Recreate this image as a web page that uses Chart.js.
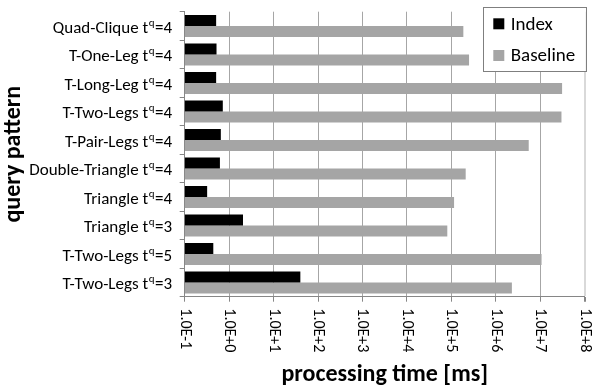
<!DOCTYPE html>
<html>
<head>
<meta charset="utf-8">
<script src="https://cdn.jsdelivr.net/npm/chart.js@4/dist/chart.umd.min.js"></script>
<style>
  html, body { margin: 0; padding: 0; background: #fff; }
  canvas { display: block; }
</style>
</head>
<body>
<canvas id="c" width="602" height="390"></canvas>
<script>
// Query patterns and their t^q parameter
const patterns = ['Quad-Clique', 'T-One-Leg', 'T-Long-Leg', 'T-Two-Legs', 'T-Pair-Legs',
                  'Double-Triangle', 'Triangle', 'Triangle', 'T-Two-Legs', 'T-Two-Legs'];
const tq = [4, 4, 4, 4, 4, 4, 4, 3, 5, 3];

// Processing time in milliseconds
const indexMs    = [0.51, 0.52, 0.51, 0.72, 0.65, 0.62, 0.32, 2.05, 0.44, 40];
const baselineMs = [1.86e5, 2.5e5, 3.1e7, 3.0e7, 5.5e6, 2.1e5, 1.15e5, 8.1e4, 1.07e7, 2.3e6];

// Decade ticks on the time axis
const tickValues = [1e-1, 1e0, 1e1, 1e2, 1e3, 1e4, 1e5, 1e6, 1e7, 1e8];
const tickLabels = ['1.0E-1', '1.0E+0', '1.0E+1', '1.0E+2', '1.0E+3',
                    '1.0E+4', '1.0E+5', '1.0E+6', '1.0E+7', '1.0E+8'];

const FONT = 'Carlito, Lato, sans-serif';
Chart.defaults.font.family = FONT;
Chart.defaults.color = '#000';

const AXIS_GREY = '#868686';
const GRID_GREY = '#a6a6a6';

// Category labels with a superscript "q" and top-to-bottom decade labels
const labelPlugin = {
  id: 'labels',
  afterDraw(chart) {
    const ctx = chart.ctx;
    const y = chart.scales.y, x = chart.scales.x;
    ctx.save();
    ctx.fillStyle = '#000';
    ctx.textBaseline = 'middle';
    const mainFont = '17px ' + FONT, supFont = '11px ' + FONT;
    const rightEdge = y.right - 12.7;
    patterns.forEach((p, i) => {
      const cy = y.getPixelForValue(i) + 2.5;
      const head = p + ' t', sup = 'q', tail = '=' + tq[i];
      ctx.font = mainFont;
      const wh = ctx.measureText(head).width, wt = ctx.measureText(tail).width;
      ctx.font = supFont;
      const ws = ctx.measureText(sup).width;
      const sx = rightEdge - (wh + ws + wt + 1);
      ctx.textAlign = 'left';
      ctx.font = mainFont;
      ctx.fillText(head, sx, cy);
      ctx.font = supFont;
      ctx.fillText(sup, sx + wh + 0.5, cy - 5.5);
      ctx.font = mainFont;
      ctx.fillText(tail, sx + wh + ws + 1, cy);
    });
    ctx.font = '16px ' + FONT;
    tickValues.forEach((v, i) => {
      const px = x.getPixelForValue(v);
      ctx.save();
      ctx.translate(px, x.top + 11.6);
      ctx.rotate(Math.PI / 2);
      ctx.textAlign = 'left';
      ctx.textBaseline = 'middle';
      ctx.fillText(tickLabels[i], 0, 0);
      ctx.restore();
    });
    ctx.restore();
  }
};

// Boxed legend in the upper right of the plot
const legendBoxPlugin = {
  id: 'legendBox',
  afterDraw(chart) {
    const ctx = chart.ctx, a = chart.chartArea;
    const bx = a.right - 102, by = a.top - 4.4, bw = 103, bh = 63.7;
    ctx.save();
    ctx.fillStyle = '#fff';
    ctx.fillRect(bx, by, bw, bh);
    ctx.strokeStyle = '#7f7f7f';
    ctx.lineWidth = 1;
    ctx.strokeRect(Math.round(bx) + 0.5, Math.round(by) + 0.5, Math.round(bw), Math.round(bh));
    ctx.font = '19px ' + FONT;
    ctx.textBaseline = 'middle';
    ctx.textAlign = 'left';
    chart.data.datasets.forEach((ds, i) => {
      const cy = by + 16.5 + i * 31.7;
      ctx.fillStyle = ds.backgroundColor;
      ctx.fillRect(bx + 10.6, cy - 5.5, 11, 11);
      ctx.fillStyle = '#000';
      ctx.fillText(ds.label, bx + 28, cy + 1);
    });
    ctx.restore();
  }
};

new Chart(document.getElementById('c'), {
  type: 'bar',
  data: {
    labels: patterns.map((p, i) => p + ' tq=' + tq[i]),
    datasets: [
      { label: 'Index', data: indexMs, backgroundColor: '#000000', borderWidth: 0 },
      { label: 'Baseline', data: baselineMs, backgroundColor: '#a5a5a5', borderWidth: 0 }
    ]
  },
  options: {
    indexAxis: 'y',
    responsive: false,
    animation: false,
    devicePixelRatio: 1,
    layout: { padding: { left: 0, right: 17.3, top: 11.7, bottom: 0 } },
    datasets: { bar: { categoryPercentage: 0.77, barPercentage: 1.0 } },
    plugins: { legend: { display: false }, tooltip: { enabled: false } },
    scales: {
      x: {
        type: 'logarithmic',
        min: 1e-1,
        max: 1e8,
        afterBuildTicks(scale) { scale.ticks = tickValues.map(v => ({ value: v })); },
        afterFit(scale) { scale.height = 93.3; },
        ticks: { display: false },
        grid: {
          color: c => (c.index === tickValues.length - 1 ? '#d9d9d9' : GRID_GREY),
          lineWidth: c => (c.index === tickValues.length - 1 ? 2 : 1),
          tickColor: AXIS_GREY,
          tickLength: 5
        },
        border: { color: AXIS_GREY },
        title: {
          display: true,
          text: 'processing time [ms]',
          font: { size: 24, weight: 'bold' },
          color: '#000',
          padding: { top: 2, bottom: 1 }
        }
      },
      y: {
        afterFit(scale) { scale.width = 184.7; },
        ticks: { display: false },
        grid: {
          offset: true,
          drawOnChartArea: false,
          drawTicks: true,
          tickLength: 5,
          color: AXIS_GREY
        },
        border: { color: AXIS_GREY },
        title: {
          display: true,
          text: 'query pattern',
          font: { size: 24, weight: 'bold' },
          color: '#000',
          padding: { top: 0, bottom: 4 }
        }
      }
    }
  },
  plugins: [labelPlugin, legendBoxPlugin]
});
</script>
</body>
</html>
